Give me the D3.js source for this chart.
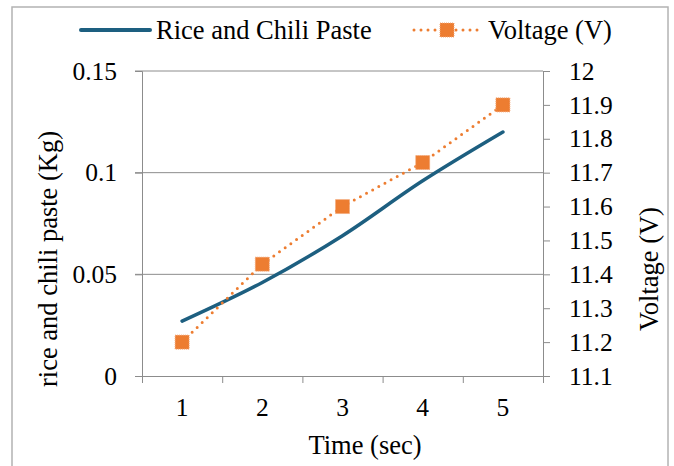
<!DOCTYPE html>
<html>
<head>
<meta charset="utf-8">
<script src="https://cdn.jsdelivr.net/npm/d3@7"></script>
<style>
  html, body { margin: 0; padding: 0; background: #fff; }
  svg text { font-family: "Liberation Serif", "Times New Roman", Tinos, "DejaVu Serif", serif !important; fill: #000; }
</style>
</head>
<body>
<svg id="chart" width="674" height="466"></svg>
<script>
// Measurements over time
const times = [1, 2, 3, 4, 5];
const riceKg = [0.027, 0.046, 0.069, 0.096, 0.120];
const voltage = [11.20, 11.43, 11.60, 11.73, 11.90];

// Axis ticks
const leftTicks = [0, 0.05, 0.1, 0.15];
const rightTicks = [11.1, 11.2, 11.3, 11.4, 11.5, 11.6, 11.7, 11.8, 11.9, 12];

const blue = "#1D5F80";
const orange = "#ED7D31";
const axisGrey = "#8C8C8C";

const svg = d3.select("#chart");
const plot = { left: 142, right: 543, top: 71, bottom: 376 };

// Chart frame
svg.append("rect")
  .attr("x", 12).attr("y", 7)
  .attr("width", 656).attr("height", 480)
  .attr("fill", "#fff")
  .attr("stroke", "#B3B3B3").attr("stroke-width", 1.5);

const x = d3.scaleLinear().domain([0.5, 5.5]).range([plot.left, plot.right]);
const yL = d3.scaleLinear().domain([0, 0.15]).range([plot.bottom, plot.top]);
const yR = d3.scaleLinear().domain([11.1, 12]).range([plot.bottom, plot.top]);

// Horizontal gridlines
svg.append("g")
  .selectAll("line")
  .data(leftTicks.slice(1))
  .join("line")
  .attr("x1", plot.left - 7).attr("x2", plot.right)
  .attr("y1", d => yL(d)).attr("y2", d => yL(d))
  .attr("stroke", axisGrey).attr("stroke-width", 1);

// Left axis
const leftAxis = svg.append("g")
  .attr("transform", `translate(${plot.left},0)`)
  .call(d3.axisLeft(yL).tickValues(leftTicks).tickSize(7).tickPadding(18)
    .tickFormat(d => d === 0 ? "0" : String(+d.toFixed(2))));

// Right axis
const rightAxis = svg.append("g")
  .attr("transform", `translate(${plot.right},0)`)
  .call(d3.axisRight(yR).tickValues(rightTicks).tickSize(7).tickPadding(19)
    .tickFormat(d => String(+d.toFixed(1))));

// Bottom axis: ticks between categories, labels at category centres
const bottomAxis = svg.append("g")
  .attr("transform", `translate(0,${plot.bottom})`)
  .call(d3.axisBottom(x).tickValues(d3.range(0.5, 6, 1)).tickSize(7).tickFormat(""));

[leftAxis, rightAxis, bottomAxis].forEach(g => {
  g.attr("font-family", null);
  g.select(".domain").attr("stroke", axisGrey).attr("stroke-width", 1);
  g.selectAll(".tick line").attr("stroke", axisGrey).attr("stroke-width", 1);
  g.selectAll(".tick text").attr("font-size", 25.5).attr("fill", "#000");
});

svg.append("g")
  .selectAll("text")
  .data(times)
  .join("text")
  .attr("x", d => x(d)).attr("y", 416)
  .attr("text-anchor", "middle")
  .attr("font-size", 25.5)
  .text(d => d);

// Axis titles
svg.append("text")
  .attr("x", 365).attr("y", 454)
  .attr("text-anchor", "middle")
  .attr("font-size", 26.5)
  .text("Time (sec)");

svg.append("text")
  .attr("transform", `translate(57,259) rotate(-90)`)
  .attr("text-anchor", "middle")
  .attr("font-size", 26.5)
  .text("rice and chili paste (Kg)");

svg.append("text")
  .attr("transform", `translate(658,269) rotate(-90)`)
  .attr("text-anchor", "middle")
  .attr("font-size", 26.5)
  .text("Voltage (V)");

// Rice and chili paste (smoothed line, left axis)
const riceLine = d3.line()
  .x((d, i) => x(times[i]))
  .y(d => yL(d))
  .curve(d3.curveCatmullRom);

svg.append("path")
  .datum(riceKg)
  .attr("d", riceLine)
  .attr("fill", "none")
  .attr("stroke", blue)
  .attr("stroke-width", 3.5)
  .attr("stroke-linecap", "round");

// Voltage (dotted line with square markers, right axis)
const voltLine = d3.line()
  .x((d, i) => x(times[i]))
  .y(d => yR(d));

svg.append("path")
  .datum(voltage)
  .attr("d", voltLine)
  .attr("fill", "none")
  .attr("stroke", orange)
  .attr("stroke-width", 3)
  .attr("stroke-linecap", "round")
  .attr("stroke-dasharray", "0,7");

const ms = 14;
svg.append("g")
  .selectAll("rect")
  .data(voltage)
  .join("rect")
  .attr("x", (d, i) => x(times[i]) - ms / 2)
  .attr("y", d => yR(d) - ms / 2)
  .attr("width", ms).attr("height", ms)
  .attr("fill", orange)
  .attr("stroke", "#F3A777")
  .attr("stroke-width", 1)
  .attr("stroke-dasharray", "1,1");

// Legend
const legend = svg.append("g");
legend.append("line")
  .attr("x1", 81).attr("x2", 150).attr("y1", 30).attr("y2", 30)
  .attr("stroke", blue).attr("stroke-width", 4).attr("stroke-linecap", "round");
legend.append("text")
  .attr("x", 156).attr("y", 39)
  .attr("font-size", 26.5)
  .text("Rice and Chili Paste");

legend.append("line")
  .attr("x1", 414).attr("x2", 478).attr("y1", 30).attr("y2", 30)
  .attr("stroke", orange).attr("stroke-width", 3)
  .attr("stroke-linecap", "round").attr("stroke-dasharray", "0,7");
legend.append("rect")
  .attr("x", 447 - 7).attr("y", 30 - 7)
  .attr("width", 14).attr("height", 14)
  .attr("fill", orange)
  .attr("stroke", "#F3A777").attr("stroke-width", 1).attr("stroke-dasharray", "1,1");
legend.append("text")
  .attr("x", 488).attr("y", 39)
  .attr("font-size", 26.5)
  .text("Voltage (V)");
</script>
</body>
</html>
